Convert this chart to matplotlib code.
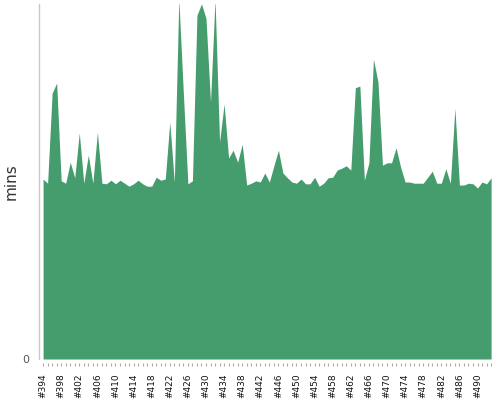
import matplotlib
matplotlib.use("Agg")
import matplotlib.pyplot as plt
from matplotlib.ticker import FixedLocator, MultipleLocator

builds = [f"#{n}" for n in range(394, 494)]
mins = [
    30.0, 29.3, 44.3, 46.0, 29.7, 29.3, 32.8, 30.2, 37.7, 29.3,
    34.0, 29.3, 37.8, 29.3, 29.2, 29.8, 29.2, 29.8, 29.3, 28.8,
    29.2, 29.8, 29.2, 28.8, 28.8,
    30.3, 29.8, 30.0, 39.5, 29.5, 60.0, 44.3, 29.2, 29.7, 57.3,
    59.2, 56.8, 42.8, 60.0, 36.2, 42.5, 33.5, 34.8, 32.8, 35.8,
    29.0, 29.3, 29.7, 29.5, 31.0, 29.5,
    32.2, 34.8, 31.0, 30.2, 29.5, 29.3, 30.0, 29.2, 29.2, 30.3,
    28.8, 29.3, 30.2, 30.3, 31.5, 31.8, 32.2, 31.5, 45.2, 45.5,
    29.8, 32.7, 50.0, 46.2, 32.3,
    32.7, 32.7, 35.2, 32.0, 29.5, 29.5, 29.3, 29.3, 29.3, 30.3,
    31.3, 29.3, 29.3, 31.7, 29.3, 41.8, 29.0, 29.0, 29.3, 29.2,
    28.5, 29.5, 29.2, 30.2,
]
y_ticks = [0]
y_max = 59.17

fig = plt.figure(figsize=(5, 4), dpi=100)
ax = fig.add_axes([39 / 500, 1 - 359 / 400, 453 / 500, 355 / 400])

x = list(range(len(mins)))
ax.fill_between(x, 0, mins, color="#459d6e", linewidth=0, zorder=2)

ax.set_xlim(-0.9, len(mins) - 1 + 0.2)
ax.set_ylim(0, y_max)

for s in ["top", "right", "bottom"]:
    ax.spines[s].set_visible(False)
ax.spines["left"].set_color("#c8c8c8")
ax.spines["left"].set_linewidth(1)
ax.spines["bottom"].set_position(("outward", 3))

major = list(range(0, len(mins), 4))
ax.xaxis.set_major_locator(FixedLocator(major))
ax.set_xticklabels([builds[i] for i in major], rotation=90, fontsize=6.5, color="#111111")
ax.xaxis.set_minor_locator(MultipleLocator(1))
ax.tick_params(axis="x", which="both", length=2.5, width=0.8, color="#aaaaaa", pad=5)

ax.set_yticks(y_ticks)
ax.set_yticklabels([str(v) for v in y_ticks], fontsize=8, color="#555555")
ax.tick_params(axis="y", length=0, pad=7)

ax.set_ylabel("mins", fontsize=11, color="#333333")
ax.yaxis.set_label_coords(-0.045, 0.5)

fig.savefig("out.png", dpi=100)
